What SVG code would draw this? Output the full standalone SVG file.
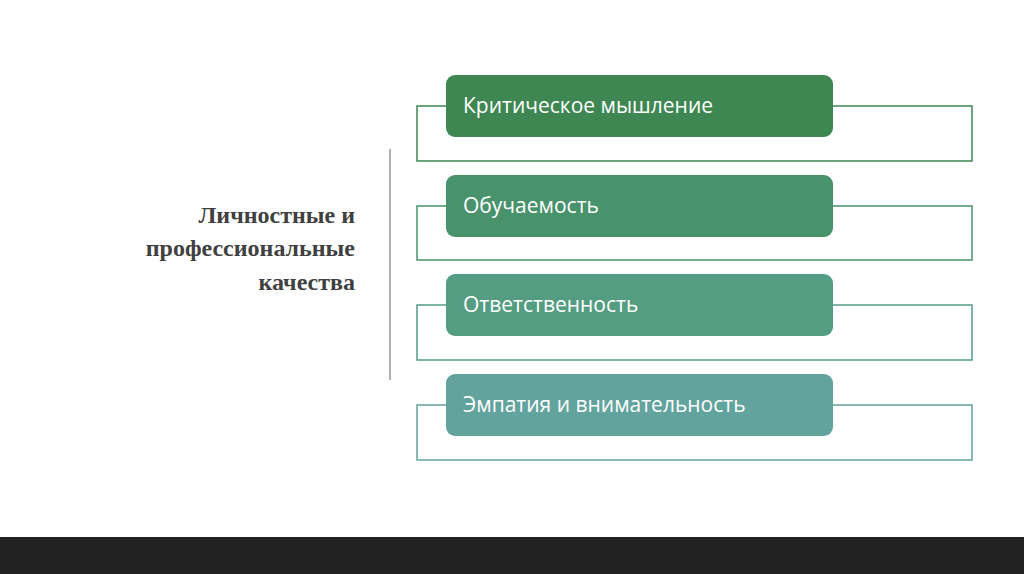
<svg xmlns="http://www.w3.org/2000/svg" width="1024" height="574" viewBox="0 0 1024 574">
<style>
.fr{fill:none;stroke-width:1.5}
.bx{stroke:none}
.t{font-family:"Open Sans","Noto Sans",sans-serif;font-size:21px;fill:#fff}
.h{font-family:"Liberation Serif",serif;font-size:24px;font-weight:bold;fill:#404040}
</style>
<rect width="1024" height="574" fill="#fff"/>
<rect x="0" y="537" width="1024" height="37" fill="#222"/>
<g id="title">
<text class="h" text-anchor="end" x="355" y="223">Личностные и</text>
<text class="h" text-anchor="end" x="355" y="256">профессиональные</text>
<text class="h" text-anchor="end" x="355" y="290">качества</text>
</g>
<line x1="390" y1="149" x2="390" y2="380" stroke="#999" stroke-width="1.5"/>
<g id="connectors">
<path class="fr" stroke="#3E8753" d="M446 106H417V161H972V106H832"/>
<path class="fr" stroke="#48926C" d="M446 206H417V260H972V206H832"/>
<path class="fr" stroke="#549D82" d="M446 305H417V360H972V305H832"/>
<path class="fr" stroke="#62A39D" d="M446 405H417V460H972V405H832"/>
</g>
<g id="n1"><rect class="bx" x="446" y="75" width="387" height="62" rx="9" fill="#3E8753"/><text class="t" x="463" y="113">Критическое мышление</text></g>
<g id="n2"><rect class="bx" x="446" y="175" width="387" height="62" rx="9" fill="#48926C"/><text class="t" x="463" y="213">Обучаемость</text></g>
<g id="n3"><rect class="bx" x="446" y="274" width="387" height="62" rx="9" fill="#549D82"/><text class="t" x="463" y="312">Ответственность</text></g>
<g id="n4"><rect class="bx" x="446" y="374" width="387" height="62" rx="9" fill="#62A39D"/><text class="t" x="463" y="412">Эмпатия и внимательность</text></g>
</svg>
